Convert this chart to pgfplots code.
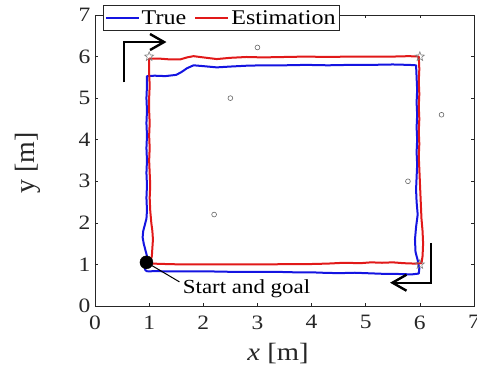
\documentclass[border=0pt]{standalone}
\usepackage{fontspec}
\setmainfont{Liberation Serif}[FakeStretch=1.15]
\newfontfamily\ylabfont{Liberation Serif}
\usepackage{pgfplots}
\pgfplotsset{compat=1.18}
\usetikzlibrary{arrows.meta}
\definecolor{trueblue}{RGB}{20,20,225}
\definecolor{estred}{RGB}{225,25,25}
\definecolor{axgray}{RGB}{38,38,38}
\pgfdeclareplotmark{pstar}{%
  \pgfpathmoveto{\pgfpointpolar{90}{\pgfplotmarksize}}%
  \pgfpathlineto{\pgfpointpolar{126}{0.42\pgfplotmarksize}}%
  \pgfpathlineto{\pgfpointpolar{162}{\pgfplotmarksize}}%
  \pgfpathlineto{\pgfpointpolar{198}{0.42\pgfplotmarksize}}%
  \pgfpathlineto{\pgfpointpolar{234}{\pgfplotmarksize}}%
  \pgfpathlineto{\pgfpointpolar{270}{0.42\pgfplotmarksize}}%
  \pgfpathlineto{\pgfpointpolar{306}{\pgfplotmarksize}}%
  \pgfpathlineto{\pgfpointpolar{342}{0.42\pgfplotmarksize}}%
  \pgfpathlineto{\pgfpointpolar{18}{\pgfplotmarksize}}%
  \pgfpathlineto{\pgfpointpolar{54}{0.42\pgfplotmarksize}}%
  \pgfpathclose\pgfusepathqstroke}
\begin{document}
\begin{tikzpicture}
\begin{axis}[
  scale only axis, width=379bp, height=291bp,
  xmin=0, xmax=7, ymin=0, ymax=7,
  xtick={0,...,7}, ytick={0,...,7},
  tick align=inside, major tick length=3bp,
  axis line style={axgray, line width=0.6bp},
  tick style={axgray, line width=0.6bp},
  /pgf/number format/assume math mode=true,
  ticklabel style={font=\fontsize{20.5}{23}\selectfont, text=axgray},
  xticklabel style={yshift=-6bp},
  yticklabel style={xshift=-1bp},
  xlabel={\textit{x} [m]},
  ylabel={\ylabfont y [m]},
  xlabel style={font=\fontsize{25}{28}\selectfont, text=axgray, at={(axis description cs:0.483,-0.165)}, anchor=center},
  ylabel style={font=\fontsize{28}{32}\selectfont, text=axgray, at={(axis description cs:-0.177,0.491)}, anchor=center},
  legend columns=2,
  legend style={at={(axis description cs:0.021,1.034)}, anchor=north west, draw=axgray, line width=0.6bp, fill=white,
    font=\fontsize{21}{24}\selectfont, inner xsep=1.5bp, inner ysep=3bp,
    /tikz/every even column/.append style={column sep=6bp}},
  legend image code/.code={\draw[#1] (0bp,0bp) -- (33bp,0bp);},
]
\coordinate (sw) at (rel axis cs:0,0);
\coordinate (ne) at (rel axis cs:1,1);
% True trajectory
\addplot[trueblue, line width=2bp, line join=round] coordinates {
(0.97,0.83) (0.93,0.86) (0.92,0.92) (0.95,1.05) (0.96,1.2) (0.93,1.35) (0.90,1.5) (0.88,1.65) (0.89,1.8) (0.92,1.95) (0.95,2.1) (0.96,2.3) (0.95,2.6) (0.96,2.9) (0.95,3.2) (0.96,3.5) (0.95,3.8) (0.96,4.1) (0.95,4.4) (0.96,4.7) (0.95,5.0) (0.96,5.3) (0.96,5.53)
(1.1,5.54) (1.3,5.53) (1.5,5.56) (1.6,5.63) (1.7,5.72) (1.82,5.79) (2.0,5.77) (2.25,5.74) (2.5,5.76) (2.8,5.78) (3.1,5.79) (3.5,5.79) (3.9,5.8) (4.3,5.79) (4.7,5.8) (5.1,5.8) (5.5,5.81) (5.8,5.8) (5.93,5.79)
(5.94,5.5) (5.95,5.2) (5.94,4.9) (5.95,4.6) (5.94,4.3) (5.95,4.0) (5.94,3.7) (5.95,3.4) (5.94,3.1) (5.93,2.8) (5.94,2.5) (5.96,2.2) (5.93,1.9) (5.91,1.6) (5.92,1.3) (5.96,1.1) (5.99,0.9) (5.98,0.78)
(5.85,0.76) (5.6,0.77) (5.4,0.77) (5.2,0.78) (5.0,0.79) (4.8,0.80) (4.5,0.79) (4.2,0.80) (4.0,0.81) (3.7,0.81) (3.4,0.82) (3.0,0.82) (2.6,0.82) (2.2,0.83) (1.8,0.83) (1.4,0.83) (1.1,0.84) (0.97,0.83)
};
\addlegendentry{True}
% Estimated trajectory
\addplot[estred, line width=2bp, line join=round] coordinates {
(1.02,1.05) (1.05,1.2) (1.06,1.4) (1.07,1.6) (1.06,1.8) (1.04,2.0) (1.02,2.3) (1.01,2.6) (1.02,2.9) (1.01,3.2) (1.00,3.5) (1.01,3.8) (1.00,4.1) (1.01,4.4) (1.00,4.7) (1.00,5.0) (1.01,5.3) (1.00,5.6) (1.00,5.95)
(1.2,5.95) (1.4,5.93) (1.57,5.93) (1.7,5.98) (1.82,6.01) (2.0,5.98) (2.25,5.94) (2.5,5.97) (2.8,5.99) (3.1,5.98) (3.5,5.99) (3.9,6.0) (4.3,5.99) (4.7,6.0) (5.1,6.0) (5.5,6.0) (5.8,6.01) (5.98,6.0)
(5.99,5.7) (5.98,5.4) (5.99,5.1) (5.98,4.8) (5.99,4.5) (5.98,4.2) (5.99,3.9) (5.98,3.6) (5.99,3.3) (6.0,3.0) (6.01,2.7) (6.02,2.4) (6.03,2.1) (6.05,1.8) (6.06,1.5) (6.05,1.2) (6.03,1.03)
(5.9,1.02) (5.7,1.03) (5.5,1.05) (5.3,1.04) (5.1,1.05) (4.9,1.03) (4.6,1.04) (4.3,1.02) (4.0,1.01) (3.6,1.01) (3.2,1.0) (2.8,1.0) (2.4,1.0) (2.0,1.0) (1.6,1.0) (1.3,1.01) (1.05,1.02)
};
\addlegendentry{Estimation}
% landmarks
\addplot[only marks, mark=o, mark size=2.4bp, gray!80!black, mark options={line width=0.6bp}, forget plot] coordinates {
(3.0,6.22) (2.5,5.0) (6.4,4.6) (5.78,3.0) (2.2,2.2)
};
% waypoints
\addplot[only marks, mark=pstar, mark size=4.8bp, gray, mark options={line width=0.6bp}, forget plot] coordinates {
(1,6) (6,6) (6,1)
};
% direction arrows
\addplot[black, line width=2.4bp, -{Straight Barb[length=14bp,width=16bp,line width=2.4bp]}, forget plot] coordinates {
(0.54,5.38) (0.54,6.35) (1.32,6.35)
};
\addplot[black, line width=2.4bp, -{Straight Barb[length=14bp,width=16bp,line width=2.4bp]}, forget plot] coordinates {
(6.21,1.52) (6.21,0.56) (5.45,0.56)
};
% start and goal
\addplot[black, line width=1bp, forget plot] coordinates {(0.95,1.05) (1.56,0.58)};
\addplot[only marks, mark=*, mark size=6.5bp, black, forget plot] coordinates {(0.95,1.05)};
\node[anchor=base west, inner sep=0pt, font=\fontsize{20}{23}\selectfont] at (axis cs:1.62,0.31) {Start and goal};
\end{axis}
\pgfresetboundingbox
\path ([xshift=-95bp,yshift=-61bp]sw) rectangle ([xshift=3bp,yshift=15bp]ne);
\end{tikzpicture}
\end{document}
